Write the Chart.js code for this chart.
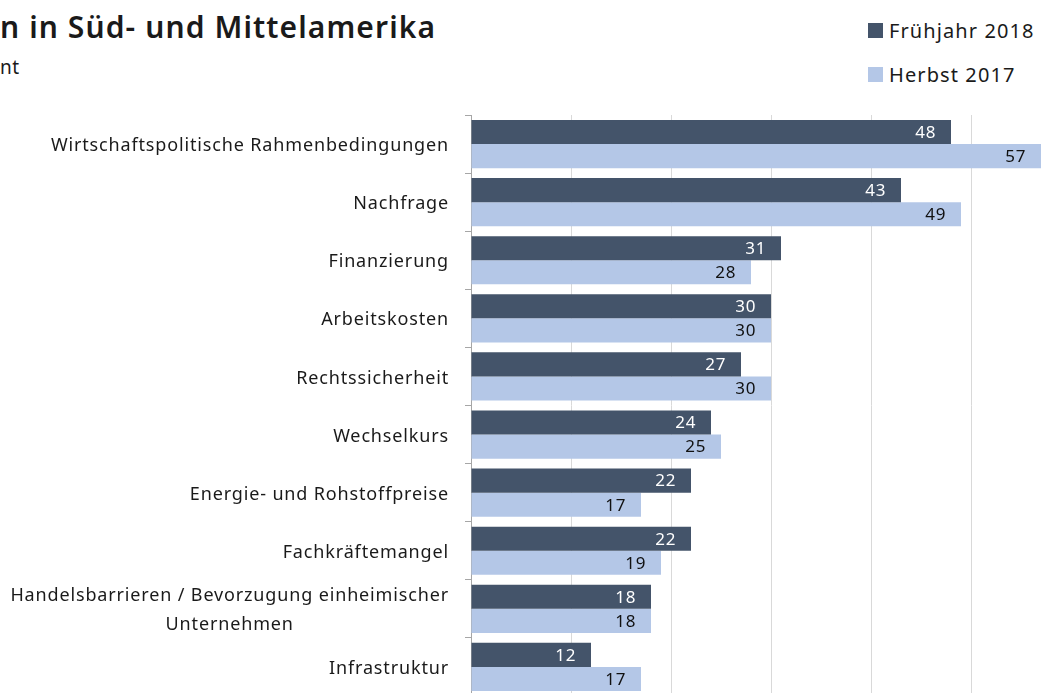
<!DOCTYPE html>
<html lang="de">
<head>
<meta charset="utf-8">
<script src="https://cdn.jsdelivr.net/npm/chart.js@4.4.1/dist/chart.umd.min.js"></script>
<style>
  html, body { margin: 0; padding: 0; background: #fff; overflow: hidden; }
  body { width: 1043px; height: 693px; position: relative; font-family: "Noto Sans", sans-serif; color: #1a1a1a; }
  .title { position: absolute; left: 0; top: 6px; font-size: 30px; font-weight: 600; letter-spacing: 1.1px; white-space: nowrap; }
  .subtitle { position: absolute; left: 0; top: 54px; font-size: 19px; letter-spacing: 0.5px; white-space: nowrap; }
  .legend { position: absolute; left: 868px; top: 8px; font-size: 20px; letter-spacing: 1.1px; }
  .legend div { display: flex; align-items: center; height: 44px; }
  .legend span.box { display: inline-block; width: 15px; height: 15px; margin-right: 6px; }
  .wrap { position: absolute; left: 0; top: 0; width: 1100px; height: 740px; }
</style>
</head>
<body>
<div class="title">n in Süd- und Mittelamerika</div>
<div class="subtitle">nt</div>
<div class="legend">
  <div><span class="box" style="background:#44546a"></span>Frühjahr 2018</div>
  <div><span class="box" style="background:#b4c7e7"></span>Herbst 2017</div>
</div>
<div class="wrap"><canvas id="chart" width="1100" height="740"></canvas></div>
<script>
const categories = [
    "Wirtschaftspolitische Rahmenbedingungen",
    "Nachfrage",
    "Finanzierung",
    "Arbeitskosten",
    "Rechtssicherheit",
    "Wechselkurs",
    "Energie- und Rohstoffpreise",
    "Fachkräftemangel",
    ["Handelsbarrieren / Bevorzugung einheimischer", "Unternehmen"],
    "Infrastruktur",
];
const fruehjahr2018 = [48, 43, 31, 30, 27, 24, 22, 22, 18, 12];
const herbst2017 = [57, 49, 28, 30, 30, 25, 17, 19, 18, 17];

const labelFont = '18px "Noto Sans", sans-serif';

// y labels: block right-aligned to the axis, lines centred inside the block
const categoryLabels = {
    id: "categoryLabels",
    afterDraw(chart) {
        const { ctx, scales: { y } } = chart;
        ctx.save();
        ctx.font = labelFont;
        ctx.letterSpacing = "0.85px";
        ctx.fillStyle = "#1a1a1a";
        ctx.textAlign = "center";
        ctx.textBaseline = "middle";
        const right = y.right - 22;
        categories.forEach((cat, i) => {
            const lines = Array.isArray(cat) ? cat : [cat];
            const w = Math.max(...lines.map((l) => ctx.measureText(l).width));
            const cy = y.getPixelForValue(i) + 2;
            const lh = 29;
            lines.forEach((l, j) => {
                ctx.fillText(l, right - w / 2, cy + (j - (lines.length - 1) / 2) * lh);
            });
        });
        ctx.restore();
    },
};

// value labels at the inner end of each bar
const valueLabels = {
    id: "valueLabels",
    afterDatasetsDraw(chart) {
        const { ctx } = chart;
        ctx.save();
        ctx.font = '17px "Noto Sans", sans-serif';
        ctx.letterSpacing = "0.6px";
        ctx.textAlign = "right";
        ctx.textBaseline = "middle";
        chart.data.datasets.forEach((ds, di) => {
            chart.getDatasetMeta(di).data.forEach((bar, i) => {
                ctx.fillStyle = di === 0 ? "#ffffff" : "#111111";
                ctx.fillText(ds.data[i], bar.x - 15, bar.y + 1);
            });
        });
        ctx.restore();
    },
};

new Chart(document.getElementById("chart"), {
    type: "bar",
    data: {
        labels: categories,
        datasets: [
            {
                label: "Frühjahr 2018",
                data: fruehjahr2018,
                backgroundColor: "#44546a",
                categoryPercentage: 0.83,
                barPercentage: 1.0,
            },
            {
                label: "Herbst 2017",
                data: herbst2017,
                backgroundColor: "#b4c7e7",
                categoryPercentage: 0.83,
                barPercentage: 1.0,
            },
        ],
    },
    options: {
        indexAxis: "y",
        responsive: false,
        animation: false,
        layout: { padding: { top: 115, bottom: 44, right: 29, left: 0 } },
        plugins: {
            legend: { display: false },
            tooltip: { enabled: false },
        },
        scales: {
            x: {
                min: 0,
                max: 60,
                ticks: { stepSize: 10, display: false },
                grid: { color: "#d9d9d9", drawTicks: false },
                border: { display: false },
            },
            y: {
                ticks: { display: false },
                grid: { drawOnChartArea: false, color: "#a6a6a6", tickLength: 6 },
                border: { color: "#a6a6a6" },
                afterFit(scale) {
                    scale.width = 471;
                },
            },
        },
    },
    plugins: [categoryLabels, valueLabels],
});
</script>
</body>
</html>
